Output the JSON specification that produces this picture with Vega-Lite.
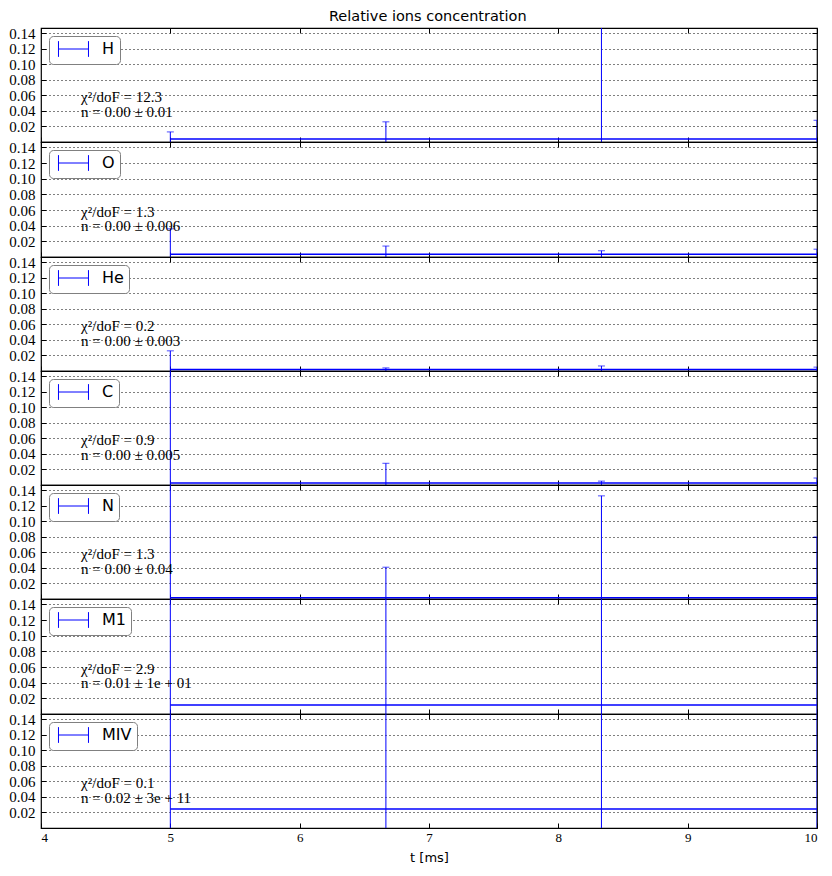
{
  "$schema": "https://vega.github.io/schema/vega-lite/v6.json",
  "padding": {"left": 5, "top": 8, "right": 16, "bottom": 5},
  "background": "white",
  "bounds": "flush",
  "title": {"text": "Relative ions concentration", "font": "DejaVu Sans", "fontSize": 14.5, "fontWeight": "normal", "color": "black", "offset": 1.5, "anchor": "middle", "dx": 16},
  "datasets": {
    "pts": [
      {"ion": "H", "t": 5, "value": 0.004, "lo": -0.005, "hi": 0.013},
      {"ion": "H", "t": 6.6667, "value": 0.004, "lo": -0.018, "hi": 0.026},
      {"ion": "H", "t": 8.3333, "value": 0.004, "lo": -0.39, "hi": 0.4},
      {"ion": "H", "t": 10, "value": 0.004, "lo": -0.02, "hi": 0.028},
      {"ion": "O", "t": 5, "value": 0.0035, "lo": -0.029, "hi": 0.036},
      {"ion": "O", "t": 6.6667, "value": 0.0035, "lo": -0.007, "hi": 0.014},
      {"ion": "O", "t": 8.3333, "value": 0.0035, "lo": -0.001, "hi": 0.008},
      {"ion": "O", "t": 10, "value": 0.0035, "lo": -0.003, "hi": 0.01},
      {"ion": "He", "t": 5, "value": 0.002, "lo": -0.022, "hi": 0.026},
      {"ion": "He", "t": 6.6667, "value": 0.002, "lo": 0.0, "hi": 0.004},
      {"ion": "He", "t": 8.3333, "value": 0.002, "lo": -0.0025, "hi": 0.0065},
      {"ion": "He", "t": 10, "value": 0.002, "lo": -0.001, "hi": 0.005},
      {"ion": "C", "t": 5, "value": 0.0025, "lo": -0.5, "hi": 0.5},
      {"ion": "C", "t": 6.6667, "value": 0.0025, "lo": -0.023, "hi": 0.028},
      {"ion": "C", "t": 8.3333, "value": 0.0025, "lo": 0.0, "hi": 0.005},
      {"ion": "C", "t": 10, "value": 0.0025, "lo": -0.004, "hi": 0.009},
      {"ion": "N", "t": 5, "value": 0.0015, "lo": -0.5, "hi": 0.5},
      {"ion": "N", "t": 6.6667, "value": 0.0015, "lo": -0.038, "hi": 0.041},
      {"ion": "N", "t": 8.3333, "value": 0.0015, "lo": -0.13, "hi": 0.133},
      {"ion": "N", "t": 10, "value": 0.0015, "lo": -0.077, "hi": 0.08},
      {"ion": "M1", "t": 5, "value": 0.0115, "lo": -10, "hi": 10},
      {"ion": "M1", "t": 6.6667, "value": 0.0115, "lo": -10, "hi": 10},
      {"ion": "M1", "t": 8.3333, "value": 0.0115, "lo": -10, "hi": 10},
      {"ion": "M1", "t": 10, "value": 0.0115, "lo": -10, "hi": 10},
      {"ion": "MIV", "t": 5, "value": 0.0245, "lo": -300000000000, "hi": 300000000000},
      {"ion": "MIV", "t": 6.6667, "value": 0.0245, "lo": -300000000000, "hi": 300000000000},
      {"ion": "MIV", "t": 8.3333, "value": 0.0245, "lo": -300000000000, "hi": 300000000000},
      {"ion": "MIV", "t": 10, "value": 0.0245, "lo": -300000000000, "hi": 300000000000}
    ],
    "ann": [
      {"ion": "H", "chi": "χ²/doF = 12.3", "n": "n = 0.00 ± 0.01"},
      {"ion": "O", "chi": "χ²/doF = 1.3", "n": "n = 0.00 ± 0.006"},
      {"ion": "He", "chi": "χ²/doF = 0.2", "n": "n = 0.00 ± 0.003"},
      {"ion": "C", "chi": "χ²/doF = 0.9", "n": "n = 0.00 ± 0.005"},
      {"ion": "N", "chi": "χ²/doF = 1.3", "n": "n = 0.00 ± 0.04"},
      {"ion": "M1", "chi": "χ²/doF = 2.9", "n": "n = 0.01 ± 1e + 01"},
      {"ion": "MIV", "chi": "χ²/doF = 0.1", "n": "n = 0.02 ± 3e + 11"}
    ]
  },
  "spacing": 0,
  "resolve": {"scale": {"color": "independent"}, "legend": {"color": "independent"}},
  "vconcat": [
    {
      "width": 776, "height": 114,
      "layer": [
        {"data": {"name": "pts"}, "transform": [{"filter": "datum.ion === 'H'"}],
         "mark": {"type": "line", "strokeWidth": 1.5, "clip": true},
         "encoding": {
           "x": {"field": "t", "type": "quantitative", "scale": {"domain": [4, 10], "nice": false, "zero": false}, "axis": {"orient": "bottom", "values": [4,5,6,7,8,9,10], "labels": false, "title": null, "tickSize": -5, "tickColor": "black", "domain": false, "grid": false, "minExtent": 0, "maxExtent": 0}},
           "y": {"field": "value", "type": "quantitative", "scale": {"domain": [0, 0.147], "nice": false, "zero": false}, "axis": {"orient": "left", "values": [0.02,0.04,0.06,0.08,0.10,0.12,0.14], "format": ".2f", "grid": true, "gridDash": [1,3], "gridColor": "black", "gridWidth": 1, "tickSize": -5, "tickColor": "black", "domain": false, "labelFont": "Liberation Serif", "labelFontSize": 15, "labelColor": "black", "labelPadding": 11, "title": null, "minExtent": 35, "maxExtent": 35}},
           "color": {"field": "ion", "type": "nominal", "scale": {"range": ["#0000ff"]}, "legend": {"orient": "top-left", "offset": 8, "padding": 5, "title": null, "strokeColor": "#808080", "cornerRadius": 4, "fillColor": "white", "symbolType": "M-0.47,0H3.53M-0.47,-1.05V1.05M3.53,-1.05V1.05", "symbolSize": 225, "symbolStrokeWidth": 1, "symbolStrokeColor": "#0000ff", "symbolFillColor": "transparent", "labelFont": "DejaVu Sans", "labelFontSize": 16, "labelColor": "black", "labelOffset": 32}}
         }},
        {"data": {"name": "pts"}, "transform": [{"filter": "datum.ion === 'H'"}],
         "mark": {"type": "rule", "color": "#0000ff", "strokeWidth": 1, "clip": true},
         "encoding": {
           "x": {"field": "t", "type": "quantitative", "axis": {"orient": "top", "values": [4,5,6,7,8,9,10], "labels": false, "title": null, "tickSize": -5, "tickColor": "black", "domain": false, "grid": false, "minExtent": 0, "maxExtent": 0}},
           "y": {"field": "lo", "type": "quantitative", "axis": {"orient": "right", "values": [0.02,0.04,0.06,0.08,0.10,0.12,0.14], "labels": false, "title": null, "tickSize": -5, "tickColor": "black", "domain": false, "grid": false, "minExtent": 0, "maxExtent": 0}},
           "y2": {"field": "hi"}
         }},
        {"data": {"name": "pts"}, "transform": [{"filter": "datum.ion === 'H'"}],
         "mark": {"type": "tick", "orient": "horizontal", "color": "#0000ff", "size": 7, "thickness": 1, "clip": true},
         "encoding": {"x": {"field": "t", "type": "quantitative", "axis": null}, "y": {"field": "hi", "type": "quantitative", "axis": null}}},
        {"data": {"name": "ann"}, "transform": [{"filter": "datum.ion === 'H'"}],
         "mark": {"type": "text", "align": "left", "baseline": "middle", "font": "Liberation Serif", "fontSize": 15, "color": "black"},
         "encoding": {"x": {"datum": 4.31, "type": "quantitative", "axis": null}, "y": {"datum": 0.058, "type": "quantitative", "axis": null}, "text": {"field": "chi"}}},
        {"data": {"name": "ann"}, "transform": [{"filter": "datum.ion === 'H'"}],
         "mark": {"type": "text", "align": "left", "baseline": "middle", "font": "Liberation Serif", "fontSize": 15, "color": "black"},
         "encoding": {"x": {"datum": 4.31, "type": "quantitative", "axis": null}, "y": {"datum": 0.039, "type": "quantitative", "axis": null}, "text": {"field": "n"}}}
      ],
      "resolve": {"axis": {"x": "independent", "y": "independent"}}
    },
    {
      "width": 776, "height": 115,
      "layer": [
        {"data": {"name": "pts"}, "transform": [{"filter": "datum.ion === 'O'"}],
         "mark": {"type": "line", "strokeWidth": 1.5, "clip": true},
         "encoding": {
           "x": {"field": "t", "type": "quantitative", "scale": {"domain": [4, 10], "nice": false, "zero": false}, "axis": {"orient": "bottom", "values": [4,5,6,7,8,9,10], "labels": false, "title": null, "tickSize": -5, "tickColor": "black", "domain": false, "grid": false, "minExtent": 0, "maxExtent": 0}},
           "y": {"field": "value", "type": "quantitative", "scale": {"domain": [0, 0.147], "nice": false, "zero": false}, "axis": {"orient": "left", "values": [0.02,0.04,0.06,0.08,0.10,0.12,0.14], "format": ".2f", "grid": true, "gridDash": [1,3], "gridColor": "black", "gridWidth": 1, "tickSize": -5, "tickColor": "black", "domain": false, "labelFont": "Liberation Serif", "labelFontSize": 15, "labelColor": "black", "labelPadding": 11, "title": null, "minExtent": 35, "maxExtent": 35}},
           "color": {"field": "ion", "type": "nominal", "scale": {"range": ["#0000ff"]}, "legend": {"orient": "top-left", "offset": 8, "padding": 5, "title": null, "strokeColor": "#808080", "cornerRadius": 4, "fillColor": "white", "symbolType": "M-0.47,0H3.53M-0.47,-1.05V1.05M3.53,-1.05V1.05", "symbolSize": 225, "symbolStrokeWidth": 1, "symbolStrokeColor": "#0000ff", "symbolFillColor": "transparent", "labelFont": "DejaVu Sans", "labelFontSize": 16, "labelColor": "black", "labelOffset": 32}}
         }},
        {"data": {"name": "pts"}, "transform": [{"filter": "datum.ion === 'O'"}],
         "mark": {"type": "rule", "color": "#0000ff", "strokeWidth": 1, "clip": true},
         "encoding": {
           "x": {"field": "t", "type": "quantitative", "axis": {"orient": "top", "values": [4,5,6,7,8,9,10], "labels": false, "title": null, "tickSize": -5, "tickColor": "black", "domain": false, "grid": false, "minExtent": 0, "maxExtent": 0}},
           "y": {"field": "lo", "type": "quantitative", "axis": {"orient": "right", "values": [0.02,0.04,0.06,0.08,0.10,0.12,0.14], "labels": false, "title": null, "tickSize": -5, "tickColor": "black", "domain": false, "grid": false, "minExtent": 0, "maxExtent": 0}},
           "y2": {"field": "hi"}
         }},
        {"data": {"name": "pts"}, "transform": [{"filter": "datum.ion === 'O'"}],
         "mark": {"type": "tick", "orient": "horizontal", "color": "#0000ff", "size": 7, "thickness": 1, "clip": true},
         "encoding": {"x": {"field": "t", "type": "quantitative", "axis": null}, "y": {"field": "hi", "type": "quantitative", "axis": null}}},
        {"data": {"name": "ann"}, "transform": [{"filter": "datum.ion === 'O'"}],
         "mark": {"type": "text", "align": "left", "baseline": "middle", "font": "Liberation Serif", "fontSize": 15, "color": "black"},
         "encoding": {"x": {"datum": 4.31, "type": "quantitative", "axis": null}, "y": {"datum": 0.058, "type": "quantitative", "axis": null}, "text": {"field": "chi"}}},
        {"data": {"name": "ann"}, "transform": [{"filter": "datum.ion === 'O'"}],
         "mark": {"type": "text", "align": "left", "baseline": "middle", "font": "Liberation Serif", "fontSize": 15, "color": "black"},
         "encoding": {"x": {"datum": 4.31, "type": "quantitative", "axis": null}, "y": {"datum": 0.039, "type": "quantitative", "axis": null}, "text": {"field": "n"}}}
      ],
      "resolve": {"axis": {"x": "independent", "y": "independent"}}
    },
    {
      "width": 776, "height": 114,
      "layer": [
        {"data": {"name": "pts"}, "transform": [{"filter": "datum.ion === 'He'"}],
         "mark": {"type": "line", "strokeWidth": 1.5, "clip": true},
         "encoding": {
           "x": {"field": "t", "type": "quantitative", "scale": {"domain": [4, 10], "nice": false, "zero": false}, "axis": {"orient": "bottom", "values": [4,5,6,7,8,9,10], "labels": false, "title": null, "tickSize": -5, "tickColor": "black", "domain": false, "grid": false, "minExtent": 0, "maxExtent": 0}},
           "y": {"field": "value", "type": "quantitative", "scale": {"domain": [0, 0.147], "nice": false, "zero": false}, "axis": {"orient": "left", "values": [0.02,0.04,0.06,0.08,0.10,0.12,0.14], "format": ".2f", "grid": true, "gridDash": [1,3], "gridColor": "black", "gridWidth": 1, "tickSize": -5, "tickColor": "black", "domain": false, "labelFont": "Liberation Serif", "labelFontSize": 15, "labelColor": "black", "labelPadding": 11, "title": null, "minExtent": 35, "maxExtent": 35}},
           "color": {"field": "ion", "type": "nominal", "scale": {"range": ["#0000ff"]}, "legend": {"orient": "top-left", "offset": 8, "padding": 5, "title": null, "strokeColor": "#808080", "cornerRadius": 4, "fillColor": "white", "symbolType": "M-0.47,0H3.53M-0.47,-1.05V1.05M3.53,-1.05V1.05", "symbolSize": 225, "symbolStrokeWidth": 1, "symbolStrokeColor": "#0000ff", "symbolFillColor": "transparent", "labelFont": "DejaVu Sans", "labelFontSize": 16, "labelColor": "black", "labelOffset": 32}}
         }},
        {"data": {"name": "pts"}, "transform": [{"filter": "datum.ion === 'He'"}],
         "mark": {"type": "rule", "color": "#0000ff", "strokeWidth": 1, "clip": true},
         "encoding": {
           "x": {"field": "t", "type": "quantitative", "axis": {"orient": "top", "values": [4,5,6,7,8,9,10], "labels": false, "title": null, "tickSize": -5, "tickColor": "black", "domain": false, "grid": false, "minExtent": 0, "maxExtent": 0}},
           "y": {"field": "lo", "type": "quantitative", "axis": {"orient": "right", "values": [0.02,0.04,0.06,0.08,0.10,0.12,0.14], "labels": false, "title": null, "tickSize": -5, "tickColor": "black", "domain": false, "grid": false, "minExtent": 0, "maxExtent": 0}},
           "y2": {"field": "hi"}
         }},
        {"data": {"name": "pts"}, "transform": [{"filter": "datum.ion === 'He'"}],
         "mark": {"type": "tick", "orient": "horizontal", "color": "#0000ff", "size": 7, "thickness": 1, "clip": true},
         "encoding": {"x": {"field": "t", "type": "quantitative", "axis": null}, "y": {"field": "hi", "type": "quantitative", "axis": null}}},
        {"data": {"name": "ann"}, "transform": [{"filter": "datum.ion === 'He'"}],
         "mark": {"type": "text", "align": "left", "baseline": "middle", "font": "Liberation Serif", "fontSize": 15, "color": "black"},
         "encoding": {"x": {"datum": 4.31, "type": "quantitative", "axis": null}, "y": {"datum": 0.058, "type": "quantitative", "axis": null}, "text": {"field": "chi"}}},
        {"data": {"name": "ann"}, "transform": [{"filter": "datum.ion === 'He'"}],
         "mark": {"type": "text", "align": "left", "baseline": "middle", "font": "Liberation Serif", "fontSize": 15, "color": "black"},
         "encoding": {"x": {"datum": 4.31, "type": "quantitative", "axis": null}, "y": {"datum": 0.039, "type": "quantitative", "axis": null}, "text": {"field": "n"}}}
      ],
      "resolve": {"axis": {"x": "independent", "y": "independent"}}
    },
    {
      "width": 776, "height": 114,
      "layer": [
        {"data": {"name": "pts"}, "transform": [{"filter": "datum.ion === 'C'"}],
         "mark": {"type": "line", "strokeWidth": 1.5, "clip": true},
         "encoding": {
           "x": {"field": "t", "type": "quantitative", "scale": {"domain": [4, 10], "nice": false, "zero": false}, "axis": {"orient": "bottom", "values": [4,5,6,7,8,9,10], "labels": false, "title": null, "tickSize": -5, "tickColor": "black", "domain": false, "grid": false, "minExtent": 0, "maxExtent": 0}},
           "y": {"field": "value", "type": "quantitative", "scale": {"domain": [0, 0.147], "nice": false, "zero": false}, "axis": {"orient": "left", "values": [0.02,0.04,0.06,0.08,0.10,0.12,0.14], "format": ".2f", "grid": true, "gridDash": [1,3], "gridColor": "black", "gridWidth": 1, "tickSize": -5, "tickColor": "black", "domain": false, "labelFont": "Liberation Serif", "labelFontSize": 15, "labelColor": "black", "labelPadding": 11, "title": null, "minExtent": 35, "maxExtent": 35}},
           "color": {"field": "ion", "type": "nominal", "scale": {"range": ["#0000ff"]}, "legend": {"orient": "top-left", "offset": 8, "padding": 5, "title": null, "strokeColor": "#808080", "cornerRadius": 4, "fillColor": "white", "symbolType": "M-0.47,0H3.53M-0.47,-1.05V1.05M3.53,-1.05V1.05", "symbolSize": 225, "symbolStrokeWidth": 1, "symbolStrokeColor": "#0000ff", "symbolFillColor": "transparent", "labelFont": "DejaVu Sans", "labelFontSize": 16, "labelColor": "black", "labelOffset": 32}}
         }},
        {"data": {"name": "pts"}, "transform": [{"filter": "datum.ion === 'C'"}],
         "mark": {"type": "rule", "color": "#0000ff", "strokeWidth": 1, "clip": true},
         "encoding": {
           "x": {"field": "t", "type": "quantitative", "axis": {"orient": "top", "values": [4,5,6,7,8,9,10], "labels": false, "title": null, "tickSize": -5, "tickColor": "black", "domain": false, "grid": false, "minExtent": 0, "maxExtent": 0}},
           "y": {"field": "lo", "type": "quantitative", "axis": {"orient": "right", "values": [0.02,0.04,0.06,0.08,0.10,0.12,0.14], "labels": false, "title": null, "tickSize": -5, "tickColor": "black", "domain": false, "grid": false, "minExtent": 0, "maxExtent": 0}},
           "y2": {"field": "hi"}
         }},
        {"data": {"name": "pts"}, "transform": [{"filter": "datum.ion === 'C'"}],
         "mark": {"type": "tick", "orient": "horizontal", "color": "#0000ff", "size": 7, "thickness": 1, "clip": true},
         "encoding": {"x": {"field": "t", "type": "quantitative", "axis": null}, "y": {"field": "hi", "type": "quantitative", "axis": null}}},
        {"data": {"name": "ann"}, "transform": [{"filter": "datum.ion === 'C'"}],
         "mark": {"type": "text", "align": "left", "baseline": "middle", "font": "Liberation Serif", "fontSize": 15, "color": "black"},
         "encoding": {"x": {"datum": 4.31, "type": "quantitative", "axis": null}, "y": {"datum": 0.058, "type": "quantitative", "axis": null}, "text": {"field": "chi"}}},
        {"data": {"name": "ann"}, "transform": [{"filter": "datum.ion === 'C'"}],
         "mark": {"type": "text", "align": "left", "baseline": "middle", "font": "Liberation Serif", "fontSize": 15, "color": "black"},
         "encoding": {"x": {"datum": 4.31, "type": "quantitative", "axis": null}, "y": {"datum": 0.039, "type": "quantitative", "axis": null}, "text": {"field": "n"}}}
      ],
      "resolve": {"axis": {"x": "independent", "y": "independent"}}
    },
    {
      "width": 776, "height": 114,
      "layer": [
        {"data": {"name": "pts"}, "transform": [{"filter": "datum.ion === 'N'"}],
         "mark": {"type": "line", "strokeWidth": 1.5, "clip": true},
         "encoding": {
           "x": {"field": "t", "type": "quantitative", "scale": {"domain": [4, 10], "nice": false, "zero": false}, "axis": {"orient": "bottom", "values": [4,5,6,7,8,9,10], "labels": false, "title": null, "tickSize": -5, "tickColor": "black", "domain": false, "grid": false, "minExtent": 0, "maxExtent": 0}},
           "y": {"field": "value", "type": "quantitative", "scale": {"domain": [0, 0.147], "nice": false, "zero": false}, "axis": {"orient": "left", "values": [0.02,0.04,0.06,0.08,0.10,0.12,0.14], "format": ".2f", "grid": true, "gridDash": [1,3], "gridColor": "black", "gridWidth": 1, "tickSize": -5, "tickColor": "black", "domain": false, "labelFont": "Liberation Serif", "labelFontSize": 15, "labelColor": "black", "labelPadding": 11, "title": null, "minExtent": 35, "maxExtent": 35}},
           "color": {"field": "ion", "type": "nominal", "scale": {"range": ["#0000ff"]}, "legend": {"orient": "top-left", "offset": 8, "padding": 5, "title": null, "strokeColor": "#808080", "cornerRadius": 4, "fillColor": "white", "symbolType": "M-0.47,0H3.53M-0.47,-1.05V1.05M3.53,-1.05V1.05", "symbolSize": 225, "symbolStrokeWidth": 1, "symbolStrokeColor": "#0000ff", "symbolFillColor": "transparent", "labelFont": "DejaVu Sans", "labelFontSize": 16, "labelColor": "black", "labelOffset": 32}}
         }},
        {"data": {"name": "pts"}, "transform": [{"filter": "datum.ion === 'N'"}],
         "mark": {"type": "rule", "color": "#0000ff", "strokeWidth": 1, "clip": true},
         "encoding": {
           "x": {"field": "t", "type": "quantitative", "axis": {"orient": "top", "values": [4,5,6,7,8,9,10], "labels": false, "title": null, "tickSize": -5, "tickColor": "black", "domain": false, "grid": false, "minExtent": 0, "maxExtent": 0}},
           "y": {"field": "lo", "type": "quantitative", "axis": {"orient": "right", "values": [0.02,0.04,0.06,0.08,0.10,0.12,0.14], "labels": false, "title": null, "tickSize": -5, "tickColor": "black", "domain": false, "grid": false, "minExtent": 0, "maxExtent": 0}},
           "y2": {"field": "hi"}
         }},
        {"data": {"name": "pts"}, "transform": [{"filter": "datum.ion === 'N'"}],
         "mark": {"type": "tick", "orient": "horizontal", "color": "#0000ff", "size": 7, "thickness": 1, "clip": true},
         "encoding": {"x": {"field": "t", "type": "quantitative", "axis": null}, "y": {"field": "hi", "type": "quantitative", "axis": null}}},
        {"data": {"name": "ann"}, "transform": [{"filter": "datum.ion === 'N'"}],
         "mark": {"type": "text", "align": "left", "baseline": "middle", "font": "Liberation Serif", "fontSize": 15, "color": "black"},
         "encoding": {"x": {"datum": 4.31, "type": "quantitative", "axis": null}, "y": {"datum": 0.058, "type": "quantitative", "axis": null}, "text": {"field": "chi"}}},
        {"data": {"name": "ann"}, "transform": [{"filter": "datum.ion === 'N'"}],
         "mark": {"type": "text", "align": "left", "baseline": "middle", "font": "Liberation Serif", "fontSize": 15, "color": "black"},
         "encoding": {"x": {"datum": 4.31, "type": "quantitative", "axis": null}, "y": {"datum": 0.039, "type": "quantitative", "axis": null}, "text": {"field": "n"}}}
      ],
      "resolve": {"axis": {"x": "independent", "y": "independent"}}
    },
    {
      "width": 776, "height": 115,
      "layer": [
        {"data": {"name": "pts"}, "transform": [{"filter": "datum.ion === 'M1'"}],
         "mark": {"type": "line", "strokeWidth": 1.5, "clip": true},
         "encoding": {
           "x": {"field": "t", "type": "quantitative", "scale": {"domain": [4, 10], "nice": false, "zero": false}, "axis": {"orient": "bottom", "values": [4,5,6,7,8,9,10], "labels": false, "title": null, "tickSize": -5, "tickColor": "black", "domain": false, "grid": false, "minExtent": 0, "maxExtent": 0}},
           "y": {"field": "value", "type": "quantitative", "scale": {"domain": [0, 0.147], "nice": false, "zero": false}, "axis": {"orient": "left", "values": [0.02,0.04,0.06,0.08,0.10,0.12,0.14], "format": ".2f", "grid": true, "gridDash": [1,3], "gridColor": "black", "gridWidth": 1, "tickSize": -5, "tickColor": "black", "domain": false, "labelFont": "Liberation Serif", "labelFontSize": 15, "labelColor": "black", "labelPadding": 11, "title": null, "minExtent": 35, "maxExtent": 35}},
           "color": {"field": "ion", "type": "nominal", "scale": {"range": ["#0000ff"]}, "legend": {"orient": "top-left", "offset": 8, "padding": 5, "title": null, "strokeColor": "#808080", "cornerRadius": 4, "fillColor": "white", "symbolType": "M-0.47,0H3.53M-0.47,-1.05V1.05M3.53,-1.05V1.05", "symbolSize": 225, "symbolStrokeWidth": 1, "symbolStrokeColor": "#0000ff", "symbolFillColor": "transparent", "labelFont": "DejaVu Sans", "labelFontSize": 16, "labelColor": "black", "labelOffset": 32}}
         }},
        {"data": {"name": "pts"}, "transform": [{"filter": "datum.ion === 'M1'"}],
         "mark": {"type": "rule", "color": "#0000ff", "strokeWidth": 1, "clip": true},
         "encoding": {
           "x": {"field": "t", "type": "quantitative", "axis": {"orient": "top", "values": [4,5,6,7,8,9,10], "labels": false, "title": null, "tickSize": -5, "tickColor": "black", "domain": false, "grid": false, "minExtent": 0, "maxExtent": 0}},
           "y": {"field": "lo", "type": "quantitative", "axis": {"orient": "right", "values": [0.02,0.04,0.06,0.08,0.10,0.12,0.14], "labels": false, "title": null, "tickSize": -5, "tickColor": "black", "domain": false, "grid": false, "minExtent": 0, "maxExtent": 0}},
           "y2": {"field": "hi"}
         }},
        {"data": {"name": "pts"}, "transform": [{"filter": "datum.ion === 'M1'"}],
         "mark": {"type": "tick", "orient": "horizontal", "color": "#0000ff", "size": 7, "thickness": 1, "clip": true},
         "encoding": {"x": {"field": "t", "type": "quantitative", "axis": null}, "y": {"field": "hi", "type": "quantitative", "axis": null}}},
        {"data": {"name": "ann"}, "transform": [{"filter": "datum.ion === 'M1'"}],
         "mark": {"type": "text", "align": "left", "baseline": "middle", "font": "Liberation Serif", "fontSize": 15, "color": "black"},
         "encoding": {"x": {"datum": 4.31, "type": "quantitative", "axis": null}, "y": {"datum": 0.058, "type": "quantitative", "axis": null}, "text": {"field": "chi"}}},
        {"data": {"name": "ann"}, "transform": [{"filter": "datum.ion === 'M1'"}],
         "mark": {"type": "text", "align": "left", "baseline": "middle", "font": "Liberation Serif", "fontSize": 15, "color": "black"},
         "encoding": {"x": {"datum": 4.31, "type": "quantitative", "axis": null}, "y": {"datum": 0.039, "type": "quantitative", "axis": null}, "text": {"field": "n"}}}
      ],
      "resolve": {"axis": {"x": "independent", "y": "independent"}}
    },
    {
      "width": 776, "height": 114,
      "layer": [
        {"data": {"name": "pts"}, "transform": [{"filter": "datum.ion === 'MIV'"}],
         "mark": {"type": "line", "strokeWidth": 1.5, "clip": true},
         "encoding": {
           "x": {"field": "t", "type": "quantitative", "scale": {"domain": [4, 10], "nice": false, "zero": false}, "axis": {"orient": "bottom", "values": [4,5,6,7,8,9,10], "labels": true, "labelFont": "Liberation Serif", "labelFontSize": 13, "labelColor": "black", "labelPadding": 8, "title": "t [ms]", "titleFont": "DejaVu Sans", "titleFontSize": 13, "titleFontWeight": "normal", "titleColor": "black", "titlePadding": 7, "tickSize": -5, "tickColor": "black", "domain": false, "grid": false}},
           "y": {"field": "value", "type": "quantitative", "scale": {"domain": [0, 0.147], "nice": false, "zero": false}, "axis": {"orient": "left", "values": [0.02,0.04,0.06,0.08,0.10,0.12,0.14], "format": ".2f", "grid": true, "gridDash": [1,3], "gridColor": "black", "gridWidth": 1, "tickSize": -5, "tickColor": "black", "domain": false, "labelFont": "Liberation Serif", "labelFontSize": 15, "labelColor": "black", "labelPadding": 11, "title": null, "minExtent": 35, "maxExtent": 35}},
           "color": {"field": "ion", "type": "nominal", "scale": {"range": ["#0000ff"]}, "legend": {"orient": "top-left", "offset": 8, "padding": 5, "title": null, "strokeColor": "#808080", "cornerRadius": 4, "fillColor": "white", "symbolType": "M-0.47,0H3.53M-0.47,-1.05V1.05M3.53,-1.05V1.05", "symbolSize": 225, "symbolStrokeWidth": 1, "symbolStrokeColor": "#0000ff", "symbolFillColor": "transparent", "labelFont": "DejaVu Sans", "labelFontSize": 16, "labelColor": "black", "labelOffset": 32}}
         }},
        {"data": {"name": "pts"}, "transform": [{"filter": "datum.ion === 'MIV'"}],
         "mark": {"type": "rule", "color": "#0000ff", "strokeWidth": 1, "clip": true},
         "encoding": {
           "x": {"field": "t", "type": "quantitative", "axis": {"orient": "top", "values": [4,5,6,7,8,9,10], "labels": false, "title": null, "tickSize": -5, "tickColor": "black", "domain": false, "grid": false, "minExtent": 0, "maxExtent": 0}},
           "y": {"field": "lo", "type": "quantitative", "axis": {"orient": "right", "values": [0.02,0.04,0.06,0.08,0.10,0.12,0.14], "labels": false, "title": null, "tickSize": -5, "tickColor": "black", "domain": false, "grid": false, "minExtent": 0, "maxExtent": 0}},
           "y2": {"field": "hi"}
         }},
        {"data": {"name": "pts"}, "transform": [{"filter": "datum.ion === 'MIV'"}],
         "mark": {"type": "tick", "orient": "horizontal", "color": "#0000ff", "size": 7, "thickness": 1, "clip": true},
         "encoding": {"x": {"field": "t", "type": "quantitative", "axis": null}, "y": {"field": "hi", "type": "quantitative", "axis": null}}},
        {"data": {"name": "ann"}, "transform": [{"filter": "datum.ion === 'MIV'"}],
         "mark": {"type": "text", "align": "left", "baseline": "middle", "font": "Liberation Serif", "fontSize": 15, "color": "black"},
         "encoding": {"x": {"datum": 4.31, "type": "quantitative", "axis": null}, "y": {"datum": 0.058, "type": "quantitative", "axis": null}, "text": {"field": "chi"}}},
        {"data": {"name": "ann"}, "transform": [{"filter": "datum.ion === 'MIV'"}],
         "mark": {"type": "text", "align": "left", "baseline": "middle", "font": "Liberation Serif", "fontSize": 15, "color": "black"},
         "encoding": {"x": {"datum": 4.31, "type": "quantitative", "axis": null}, "y": {"datum": 0.039, "type": "quantitative", "axis": null}, "text": {"field": "n"}}}
      ],
      "resolve": {"axis": {"x": "independent", "y": "independent"}}
    }
  ],
  "config": {
    "view": {"stroke": "black", "strokeWidth": 1.2}
  }
}
